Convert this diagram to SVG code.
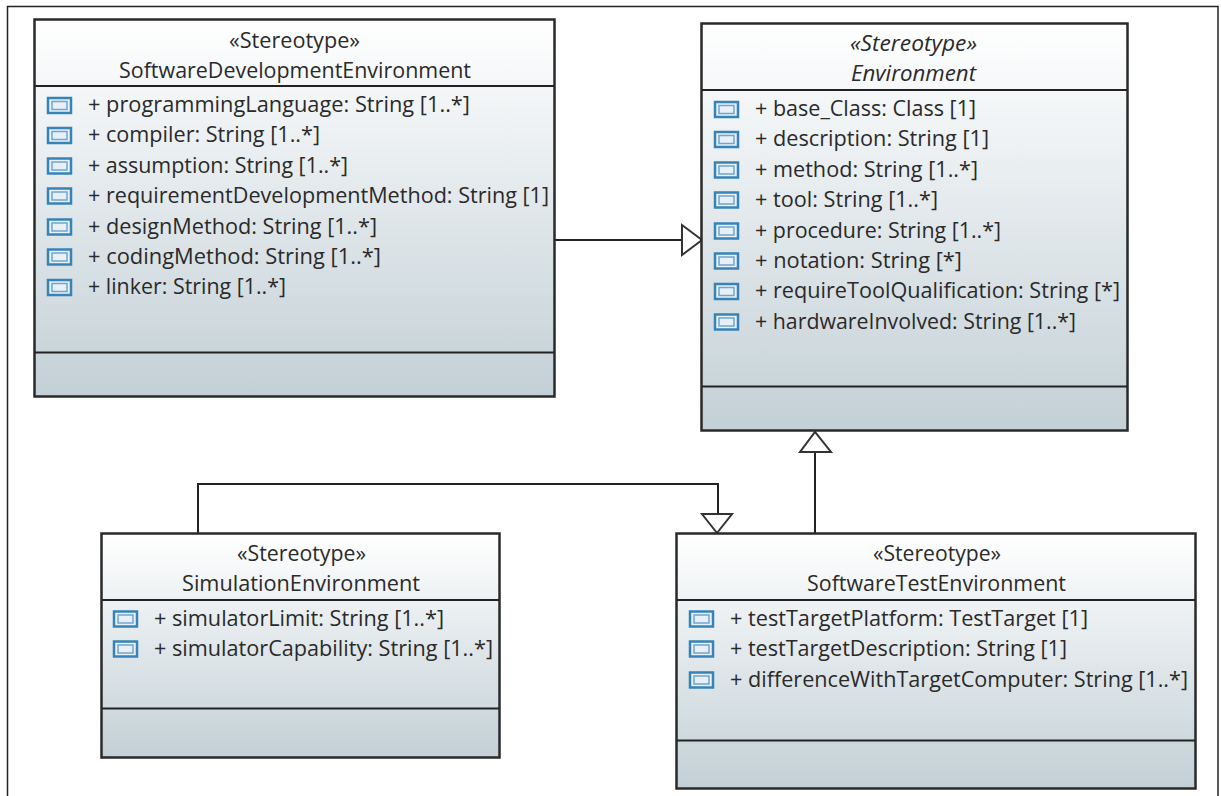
<svg xmlns="http://www.w3.org/2000/svg" width="1221" height="796" viewBox="0 0 1221 796">
<style>
text{font-family:"Open Sans","Noto Sans","Liberation Sans",sans-serif;font-size:21.500px;fill:#2a2a2a}
.i{font-style:italic}
.box{fill:url(#g);stroke:#2a2a2a;stroke-width:2.500}
.div{stroke:#222;stroke-width:2;fill:none}
.conn{stroke:#222;stroke-width:2;fill:none}
.head{stroke:#333;stroke-width:2;fill:#fff}
.ic{fill:#e9f1f7;stroke:#3683b8;stroke-width:2.500}
.ii{fill:#e8eff6;stroke:#6fa6cf;stroke-width:1.500}
</style>
<defs>
<linearGradient id="g" x1="0" y1="0" x2="0" y2="1"><stop offset="0" stop-color="#fff"/><stop offset="1" stop-color="#c3d0d6"/></linearGradient>
<g id="a"><rect class="ic" x="0" y="-7.500" width="23" height="15"/><rect class="ii" x="4" y="-4" width="15" height="8"/></g>
</defs>
<rect width="1221" height="796" fill="#fff"/>
<path d="M7.500 796V6.500H1218V796" fill="none" stroke="#222" stroke-width="1.500"/>
<g id="connectors">
<path class="conn" d="M555 240H682"/>
<path class="head" d="M682 225L702 240L682 255Z"/>
<path class="conn" d="M198 533V484H718V514"/>
<path class="head" d="M702 514H732L717 533Z"/>
<path class="conn" d="M815 533V452"/>
<path class="head" d="M800 452H831L815 432Z"/>
</g>
<g id="SoftwareDevelopmentEnvironment">
<rect class="box" x="34.500" y="19.500" width="520" height="377"/>
<path class="div" d="M35 86H554M35 352.500H554"/>
<text x="229" y="48" textLength="131" lengthAdjust="spacingAndGlyphs">«Stereotype»</text>
<text x="119" y="78" textLength="352" lengthAdjust="spacingAndGlyphs">SoftwareDevelopmentEnvironment</text>
<use href="#a" x="48" y="105.500"/><text x="88" y="112" textLength="382" lengthAdjust="spacingAndGlyphs">+ programmingLanguage: String [1..*]</text>
<use href="#a" x="48" y="135.500"/><text x="88" y="142" textLength="232" lengthAdjust="spacingAndGlyphs">+ compiler: String [1..*]</text>
<use href="#a" x="48" y="166"/><text x="88" y="173" textLength="260" lengthAdjust="spacingAndGlyphs">+ assumption: String [1..*]</text>
<use href="#a" x="48" y="196"/><text x="88" y="203" textLength="461" lengthAdjust="spacingAndGlyphs">+ requirementDevelopmentMethod: String [1]</text>
<use href="#a" x="48" y="227"/><text x="88" y="234" textLength="289" lengthAdjust="spacingAndGlyphs">+ designMethod: String [1..*]</text>
<use href="#a" x="48" y="257"/><text x="88" y="264" textLength="293" lengthAdjust="spacingAndGlyphs">+ codingMethod: String [1..*]</text>
<use href="#a" x="48" y="287.500"/><text x="88" y="294" textLength="198" lengthAdjust="spacingAndGlyphs">+ linker: String [1..*]</text>
</g>
<g id="Environment">
<rect class="box" x="701.500" y="23.500" width="426" height="407"/>
<path class="div" d="M702 90H1127M702 386.500H1127"/>
<text class="i" x="850" y="51" textLength="127" lengthAdjust="spacingAndGlyphs">«Stereotype»</text>
<text class="i" x="851" y="81" textLength="125" lengthAdjust="spacingAndGlyphs">Environment</text>
<use href="#a" x="715" y="109.500"/><text x="755" y="116" textLength="221" lengthAdjust="spacingAndGlyphs">+ base_Class: Class [1]</text>
<use href="#a" x="715" y="139.500"/><text x="755" y="146" textLength="234" lengthAdjust="spacingAndGlyphs">+ description: String [1]</text>
<use href="#a" x="715" y="170"/><text x="755" y="177" textLength="223" lengthAdjust="spacingAndGlyphs">+ method: String [1..*]</text>
<use href="#a" x="715" y="200"/><text x="755" y="207" textLength="183" lengthAdjust="spacingAndGlyphs">+ tool: String [1..*]</text>
<use href="#a" x="715" y="231"/><text x="755" y="238" textLength="246" lengthAdjust="spacingAndGlyphs">+ procedure: String [1..*]</text>
<use href="#a" x="715" y="261"/><text x="755" y="268" textLength="207" lengthAdjust="spacingAndGlyphs">+ notation: String [*]</text>
<use href="#a" x="715" y="291.500"/><text x="755" y="298" textLength="365" lengthAdjust="spacingAndGlyphs">+ requireToolQualification: String [*]</text>
<use href="#a" x="715" y="322"/><text x="755" y="329" textLength="321" lengthAdjust="spacingAndGlyphs">+ hardwareInvolved: String [1..*]</text>
</g>
<g id="SimulationEnvironment">
<rect class="box" x="101.500" y="533.500" width="398" height="224"/>
<path class="div" d="M102 600H499M102 708.500H499"/>
<text x="237" y="561" textLength="129" lengthAdjust="spacingAndGlyphs">«Stereotype»</text>
<text x="182" y="591" textLength="238" lengthAdjust="spacingAndGlyphs">SimulationEnvironment</text>
<use href="#a" x="114" y="619"/><text x="154" y="626" textLength="290" lengthAdjust="spacingAndGlyphs">+ simulatorLimit: String [1..*]</text>
<use href="#a" x="114" y="649"/><text x="154" y="656" textLength="339" lengthAdjust="spacingAndGlyphs">+ simulatorCapability: String [1..*]</text>
</g>
<g id="SoftwareTestEnvironment">
<rect class="box" x="676.500" y="533.500" width="519" height="255"/>
<path class="div" d="M677 600H1195M677 740.500H1195"/>
<text x="873" y="561" textLength="128" lengthAdjust="spacingAndGlyphs">«Stereotype»</text>
<text x="807" y="591" textLength="259" lengthAdjust="spacingAndGlyphs">SoftwareTestEnvironment</text>
<use href="#a" x="690" y="619"/><text x="730" y="626" textLength="358" lengthAdjust="spacingAndGlyphs">+ testTargetPlatform: TestTarget [1]</text>
<use href="#a" x="690" y="649"/><text x="730" y="656" textLength="337" lengthAdjust="spacingAndGlyphs">+ testTargetDescription: String [1]</text>
<use href="#a" x="690" y="680"/><text x="730" y="687" textLength="458" lengthAdjust="spacingAndGlyphs">+ differenceWithTargetComputer: String [1..*]</text>
</g>
</svg>
